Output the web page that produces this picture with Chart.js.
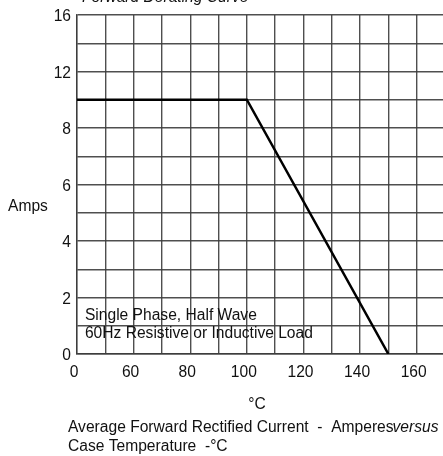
<!DOCTYPE html>
<html>
<head>
<meta charset="utf-8">
<script src="https://cdn.jsdelivr.net/npm/chart.js@4"></script>
<style>
  html, body { margin: 0; padding: 0; background: #fff; overflow: hidden; }
  #wrap { width: 445px; height: 456px; }
</style>
</head>
<body>
<div id="wrap"><canvas id="chart" width="445" height="456"></canvas></div>
<script>
// derating curve
var caseTemp = [40, 100, 150];
var avgCurrent = [10, 10, 0];

// x ticks: the first one is printed as "0" on the sheet
var xTickValues = [40, 60, 80, 100, 120, 140, 160];
var xTickLabels = ["0", "60", "80", "100", "120", "140", "160"];

// y axis is two-speed: 1 A per grid row up to 8, then 2 A per row
var yTickAmps = [0, 2, 4, 6, 8, 12, 16];

var gridColor = "rgba(60,60,60,0.9)";
var fontFamily = "'Liberation Sans', Arial, sans-serif";
var fontSize = 15.6;

function ampsToRow(a) {
	return a <= 8 ? a : 8 + (a - 8) / 2;
}

var points = caseTemp.map(function (t, i) {
	return { x: t, y: ampsToRow(avgCurrent[i]) };
});

var textPlugin = {
	id: "sheetText",
	afterDraw: function (chart) {
		var ctx = chart.ctx;
		var xs = chart.scales.x;
		var ys = chart.scales.y;
		var plain = fontSize + "px " + fontFamily;
		var italic = "italic " + plain;
		ctx.save();
		ctx.fillStyle = "#111";
		ctx.textAlign = "left";

		// title, mostly cut off at the top of the picture
		ctx.font = italic;
		ctx.textBaseline = "alphabetic";
		ctx.fillText("Forward Derating Curve", 82, 2);

		ctx.textBaseline = "middle";
		ctx.font = plain;
		ctx.fillText("Amps", 8, ys.getPixelForValue(5.2));

		var noteX = xs.getPixelForValue(42.8);
		ctx.fillText("Single Phase, Half Wave", noteX, ys.getPixelForValue(1.37));
		ctx.fillText("60Hz Resistive or Inductive Load", noteX, ys.getPixelForValue(0.73));

		ctx.textAlign = "center";
		ctx.fillText("\u00B0C", 257, 405);

		ctx.textAlign = "left";
		var line1 = "Average Forward Rectified Current  -  Amperes";
		ctx.fillText(line1, 68, 428);
		var w = ctx.measureText(line1).width;
		ctx.font = italic;
		ctx.fillText("versus", 68 + w - 1, 428);
		ctx.font = plain;
		ctx.fillText("Case Temperature  -\u00B0C", 68, 447);
		ctx.restore();
	},
};

Chart.defaults.font.family = fontFamily;
Chart.defaults.font.size = fontSize;
Chart.defaults.color = "#111";

var ctx = document.getElementById("chart").getContext("2d");
var chart = new Chart(ctx, {
	type: "line",
	data: {
		datasets: [
			{
				data: points,
				borderColor: "#000",
				borderWidth: 2.5,
				pointRadius: 0,
				tension: 0,
				fill: false,
			},
		],
	},
	options: {
		responsive: false,
		animation: false,
		layout: { padding: { top: 15, left: 0, right: 0, bottom: 0 } },
		plugins: {
			legend: { display: false },
			tooltip: { enabled: false },
		},
		scales: {
			x: {
				type: "linear",
				min: 40,
				max: 170,
				afterFit: function (scale) {
					scale.height = 102;
					scale.paddingLeft = 0;
					scale.paddingRight = 0;
				},
				afterBuildTicks: function (scale) {
					var t = [];
					for (var v = 40; v <= 170; v += 10) t.push({ value: v });
					scale.ticks = t;
				},
				ticks: {
					autoSkip: false,
					maxRotation: 0,
					padding: 9,
					labelOffset: -3,
					callback: function (value) {
						var i = xTickValues.indexOf(value);
						return i >= 0 ? xTickLabels[i] : "";
					},
				},
				grid: { color: gridColor, lineWidth: 1.4, drawTicks: false },
				border: { color: gridColor, width: 1.4 },
			},
			y: {
				type: "linear",
				min: 0,
				max: 12,
				afterFit: function (scale) {
					scale.width = 77;
					scale.paddingTop = 0;
					scale.paddingBottom = 0;
				},
				afterBuildTicks: function (scale) {
					var t = [];
					for (var v = 0; v <= 12; v++) t.push({ value: v });
					scale.ticks = t;
				},
				ticks: {
					autoSkip: false,
					padding: 6,
					labelOffset: 2,
					callback: function (value) {
						for (var i = 0; i < yTickAmps.length; i++) {
							if (ampsToRow(yTickAmps[i]) === value) return String(yTickAmps[i]);
						}
						return "";
					},
				},
				grid: { color: gridColor, lineWidth: 1.4, drawTicks: false },
				border: { color: gridColor, width: 1.4 },
			},
		},
	},
	plugins: [textPlugin],
});
</script>
</body>
</html>
